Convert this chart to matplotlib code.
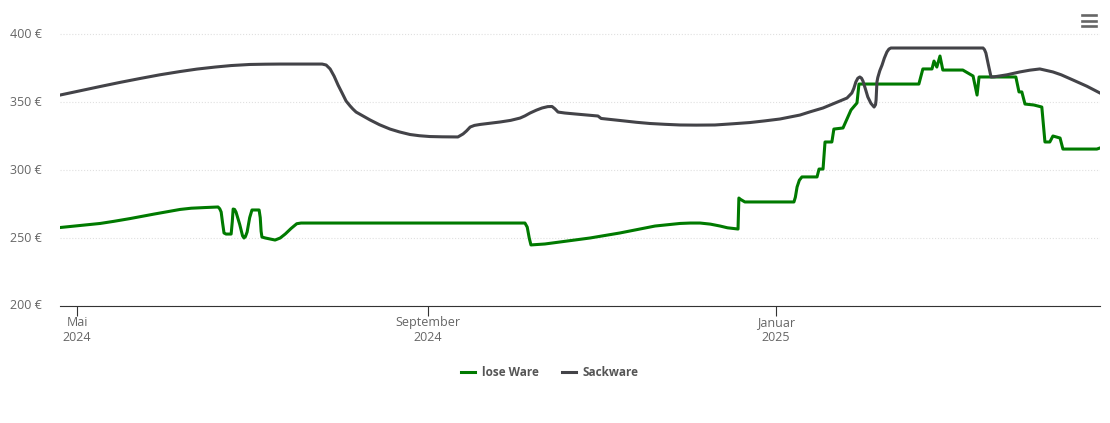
import matplotlib
matplotlib.use("Agg")
import matplotlib.pyplot as plt
import matplotlib.transforms as mtransforms
import numpy as np
import pandas as pd

START_DATE = "2024-05-01"

# days after START_DATE, price in euro
loose_days = [-6, 8.1, 13, 18.6, 27, 36.1, 40, 44.9, 49.4, 50, 50.5, 51, 51.5, 52.2, 54.0, 54.4, 54.7, 55.2, 55.7, 57, 58,
              58.5, 59, 59.6, 60.5, 61.3, 63.8, 64.2, 64.5, 64.8, 66, 69.4, 71.2, 73, 75, 77, 78.5,
              157.0, 157.8, 158.5, 159.1, 164.0, 179.8, 190.3, 202.6, 211.4, 215, 218.4, 222, 225.4, 228, 231.7, 232.0,
              232.5, 234.1, 251.3, 251.8, 252.4, 253.2, 254.1, 259.4, 260.1, 261.5, 262.2, 264.6, 265.3, 268.5, 271.3,
              273.4, 274.1, 295.1, 296.5, 299.7, 300.4, 301.4, 302.5, 303.5, 310.5, 314.1, 315.5, 316.2, 329.1, 330.2,
              331.2, 332.3, 335.4, 338.2, 339.3, 341.0, 342.1, 344.6, 345.6, 357.5, 358.6]
loose_price = [257.7, 260.7, 262.3, 264.3, 267.6, 271.0, 271.9, 272.4, 272.8, 271.5, 269.1, 261, 253.7, 252.9, 252.9, 262, 271.3, 271.0, 269.1, 260, 251.6,
               250, 251, 254.4, 265, 270.6, 270.6, 265, 255, 250.7, 250, 248.5, 250, 253, 257, 260.5, 261,
               261, 258, 250, 244.9, 245.6, 250, 253.7, 258.8, 260.7, 261, 261, 260.2, 258.8, 257.5, 256.6, 279.4,
               278.5, 276.5, 276.5, 280, 287.5, 292.5, 294.9, 294.9, 300.7, 300.7, 320.6, 320.6, 330.1, 330.9, 344.1,
               349.3, 363.2, 363.2, 374.3, 374.3, 380.1, 375.7, 383.8, 373.5, 373.5, 369.1, 355.1, 368.4, 368.4, 357.4,
               357.4, 348.5, 347.8, 346.3, 320.6, 320.6, 325, 323.5, 315.4, 315.4, 316.2]

sack_days = [-6, 8.1, 15, 22.1, 29, 36.1, 42, 48.4, 54, 60.6, 66, 71.2, 85.9, 87.3, 88.7, 90.1, 91.5, 92.9, 94.3, 95.7, 96.7,
             97.8, 102.7, 106, 109.7, 113, 116.7, 120, 123.7, 128, 133.5, 135.3, 136.5, 137.8, 139.3, 141.3, 148.3, 152,
             155.3, 157, 158.8, 161, 163.0, 165, 166.5, 167.5, 168.6, 171, 174.6, 182.6, 183.7, 192.1, 196, 200.8, 206,
             211.4, 217, 223.6, 230, 235.9, 241, 246.4, 250, 253.4, 257, 261.5, 266, 269.9, 271.6, 272.3, 273.0, 273.7,
             274.4, 275, 275.5, 276.3, 277.2, 278.3, 279.4, 279.9, 280.1, 280.4, 280.7, 281.4, 282.2, 283, 283.9, 284.6,
             285.3, 317.6, 318.1, 318.6, 319.5, 320.4, 321.5, 326, 330.5, 334, 337.5, 342.1, 345, 349.1, 354, 358.6]
sack_price = [355.1, 361.4, 364.4, 367.3, 370, 372.4, 374.2, 375.7, 376.8, 377.6, 377.8, 377.9, 377.9, 377.2, 374.3, 369.0, 362.4, 356.6, 350.7, 347.1, 344.8,
              342.6, 336.8, 333.3, 330.1, 328, 326.1, 325.2, 324.6, 324.4, 324.3, 326.5, 328.7, 331.6, 332.8, 333.5, 335.3, 336.5,
              338.2, 339.8, 341.9, 344, 345.6, 346.6, 346.7, 345, 342.6, 341.9, 341.2, 339.7, 337.9, 336.0, 335.1, 334.2, 333.6,
              333.1, 333, 333.1, 334, 334.9, 336.1, 337.5, 339, 340.4, 342.8, 345.6, 349.5, 352.9, 356.6, 360, 364.7, 367.5,
              368.4, 367.5, 365.4, 360, 353.7, 349, 346.3, 348, 351.5, 364.7, 368, 373, 377.2, 382.3, 386.8, 388.9,
              389.7, 389.7, 388.5, 386.0, 377, 368.4, 368.5, 370, 372.1, 373.4, 374.3, 372.1, 370, 366.2, 361.6, 356.6]

tick_dates = ["2024-05-01", "2024-09-01", "2025-01-01"]
tick_names = ["Mai\n2024", "September\n2024", "Januar\n2025"]
price_ticks = [200, 250, 300, 350, 400]


def plot_price_history():
    plt.rcParams['font.family'] = 'Open Sans'
    start = pd.Timestamp(START_DATE)
    loose_dates = start + pd.to_timedelta(np.array(loose_days), unit='D')
    sack_dates = start + pd.to_timedelta(np.array(sack_days), unit='D')

    fig = plt.figure(figsize=(11.1, 4.23), dpi=100)
    plt.axes([60 / 1110, 117 / 423, 1040 / 1110, 285.6 / 423])
    plt.plot(loose_dates, loose_price, color="#007a00", linewidth=2.2, label="lose Ware", solid_joinstyle='round')
    plt.plot(sack_dates, sack_price, color="#434348", linewidth=2.2, label="Sackware", solid_joinstyle='round')

    plt.xlim(start + pd.Timedelta(days=-6), start + pd.Timedelta(days=358.6))
    plt.ylim(200, 410)
    plt.xticks(pd.to_datetime(tick_dates), tick_names, color="#666666", fontsize=9, linespacing=1.2)
    plt.yticks(price_ticks, [str(p) + " €" for p in price_ticks], color="#666666", fontsize=9)
    plt.tick_params(axis='x', length=7.2, width=0.8, color="#333333", pad=-0.2)
    plt.tick_params(axis='y', length=0, pad=13)
    plt.grid(axis='y', color="#e0e0e0", linestyle=':', linewidth=0.8)

    ax = plt.gca()
    ax.set_axisbelow(True)
    for side in ['top', 'left', 'right']:
        ax.spines[side].set_visible(False)
    ax.spines['bottom'].set_color("#333333")
    ax.spines['bottom'].set_linewidth(0.8)

    # the 200 label sits a bit above its line
    for label, shift in zip(ax.get_yticklabels(), [2, 1, 1, 1, 1]):
        label.set_transform(label.get_transform() + mtransforms.ScaledTranslation(0, shift / 100, fig.dpi_scale_trans))

    # menu icon in the top right corner
    for bar_y in [1.018, 0.999, 0.979]:
        plt.plot([0.9825, 0.9965], [bar_y, bar_y], color="#666666", linewidth=1.9, transform=ax.transAxes, clip_on=False)

    leg = plt.legend(loc="center", bbox_to_anchor=(0.471, -0.2328), ncol=2, frameon=False,
                     handlelength=1.2, columnspacing=2.0, handletextpad=0.55, prop={'weight': 'bold', 'size': 8.5})
    for text in leg.get_texts():
        text.set_color("#555555")

    plt.savefig('out.png', dpi=100)


if __name__ == "__main__":
    plot_price_history()
